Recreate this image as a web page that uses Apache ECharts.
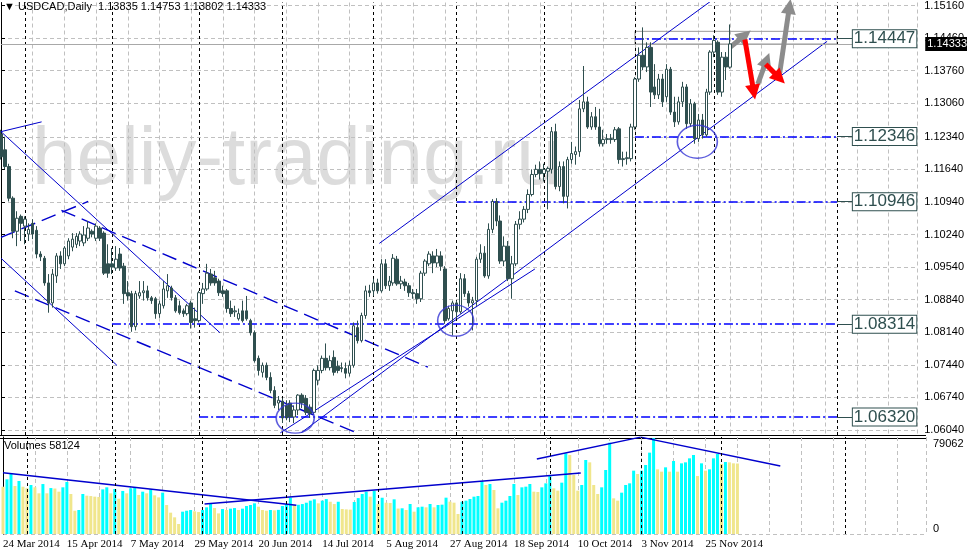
<!DOCTYPE html>
<html><head><meta charset="utf-8">
<script src="https://cdn.jsdelivr.net/npm/echarts@6/dist/echarts.min.js"></script>
<style>html,body{margin:0;padding:0;background:#fff}#c{width:967px;height:554px}</style>
</head><body><div id="c"></div>
<script>
// ---------------- data ----------------
const opens = [1.1240,1.1206,1.1170,1.1102,1.1031,1.1063,1.1042,1.1025,1.1048,1.1033,
1.0982,1.0973,1.0920,1.0877,1.0935,1.0978,1.0961,1.0978,1.0997,1.1003,
1.1010,1.1006,1.1016,1.1031,1.1016,1.1038,1.1027,1.0961,1.0961,1.0952,
1.0982,1.0956,1.0899,1.0897,1.0826,1.0892,1.0899,1.0903,1.0888,1.0886,
1.0854,1.0871,1.0903,1.0909,1.0888,1.0871,1.0860,1.0854,1.0877,1.0843,
1.0839,1.0897,1.0907,1.0939,1.0931,1.0924,1.0903,1.0903,1.0865,1.0858,
1.0843,1.0860,1.0860,1.0839,1.0813,1.0758,1.0728,1.0743,1.0717,1.0689,
1.0662,1.0666,1.0657,1.0662,1.0632,1.0647,1.0679,1.0672,1.0653,1.0642,
1.0711,1.0732,1.0758,1.0738,1.0760,1.0741,1.0738,1.0736,1.0726,1.0743,
1.0824,1.0796,1.0850,1.0903,1.0903,1.0920,1.0903,1.0961,1.0914,1.0920,
1.0971,1.0918,1.0922,1.0914,1.0899,1.0897,1.0886,1.0941,1.0961,1.0978,
1.0963,1.0978,1.0950,1.0843,1.0860,1.0877,1.0858,1.0929,1.0897,1.0877,
1.0882,1.0971,1.0984,1.0935,1.1035,1.1095,1.1053,1.0967,1.0999,1.0929,
1.0961,1.1046,1.1057,1.1078,1.1110,1.1153,1.1164,1.1155,1.1160,1.1164,
1.1245,1.1127,1.1170,1.1106,1.1185,1.1196,1.1202,1.1294,1.1309,1.1255,
1.1277,1.1255,1.1219,1.1228,1.1230,1.1228,1.1251,1.1185,1.1187,1.1187,
1.1255,1.1358,1.1409,1.1384,1.1426,1.1341,1.1324,1.1358,1.1320,1.1379,
1.1287,1.1266,1.1309,1.1341,1.1262,1.1305,1.1230,1.1270,1.1238,1.1330,
1.1416,1.1437,1.1330,1.1405,1.13835];
const highs = [1.1249,1.1234,1.1176,1.1106,1.1074,1.1067,1.1063,1.1048,1.1057,1.1042,
1.0988,1.0978,1.0939,1.0950,1.0984,1.0988,1.0999,1.1016,1.1027,1.1027,
1.1031,1.1042,1.1053,1.1035,1.1048,1.1042,1.1031,1.1003,1.0995,1.0999,
1.0995,1.0963,1.0924,1.0903,1.0903,1.0924,1.0924,1.0914,1.0892,1.0890,
1.0882,1.0924,1.0939,1.0914,1.0894,1.0882,1.0865,1.0875,1.0882,1.0867,
1.0903,1.0920,1.0961,1.0950,1.0946,1.0929,1.0914,1.0907,1.0882,1.0871,
1.0865,1.0882,1.0892,1.0843,1.0818,1.0764,1.0749,1.0749,1.0728,1.0698,
1.0677,1.0672,1.0668,1.0668,1.0657,1.0681,1.0683,1.0679,1.0659,1.0736,
1.0743,1.0764,1.0790,1.0764,1.0775,1.0753,1.0749,1.0749,1.0753,1.0835,
1.0839,1.0856,1.0914,1.0916,1.0929,1.0929,1.0971,1.0971,1.0935,1.0982,
1.0978,1.0935,1.0929,1.0920,1.0907,1.0907,1.0946,1.0971,1.0988,1.0988,
1.0993,1.0988,1.0956,1.0871,1.0882,1.0882,1.0941,1.0939,1.0903,1.0890,
1.0976,1.1003,1.0999,1.1048,1.1100,1.1102,1.1065,1.1020,1.1010,1.0978,
1.1053,1.1074,1.1085,1.1121,1.1164,1.1174,1.1181,1.1176,1.1170,1.1255,
1.1262,1.1181,1.1181,1.1191,1.1223,1.1213,1.1313,1.1386,1.1320,1.1287,
1.1298,1.1294,1.1249,1.1240,1.1240,1.1255,1.1255,1.1202,1.1202,1.1262,
1.1362,1.1426,1.1469,1.1437,1.1437,1.1390,1.1369,1.1369,1.1390,1.1384,
1.1320,1.1320,1.1352,1.1347,1.1315,1.1309,1.1283,1.1283,1.1337,1.1420,
1.1452,1.1441,1.1416,1.1416,1.14753];
const lows = [1.1185,1.1164,1.1095,1.1016,1.0999,1.1010,1.1003,1.1010,1.1014,1.0973,
1.0967,1.0914,1.0856,1.0867,1.0920,1.0950,1.0956,1.0971,1.0988,1.0995,
1.0999,1.0999,1.1010,1.1018,1.1010,1.1010,1.0937,1.0931,1.0939,1.0946,
1.0946,1.0875,1.0882,1.0815,1.0818,1.0886,1.0882,1.0882,1.0875,1.0843,
1.0845,1.0865,1.0888,1.0882,1.0856,1.0852,1.0847,1.0850,1.0822,1.0824,
1.0835,1.0875,1.0903,1.0914,1.0914,1.0892,1.0890,1.0856,1.0847,1.0847,
1.0839,1.0835,1.0839,1.0807,1.0749,1.0721,1.0717,1.0711,1.0683,1.0651,
1.0647,1.0619,1.0625,1.0621,1.0619,1.0636,1.0651,1.0636,1.0630,1.0636,
1.0700,1.0726,1.0732,1.0732,1.0721,1.0726,1.0728,1.0715,1.0719,1.0738,
1.0790,1.0792,1.0843,1.0890,1.0892,1.0897,1.0899,1.0907,1.0903,1.0914,
1.0914,1.0907,1.0903,1.0890,1.0886,1.0875,1.0879,1.0935,1.0956,1.0941,
1.0954,1.0946,1.0832,1.0839,1.0807,1.0843,1.0854,1.0890,1.0869,1.0818,
1.0871,1.0963,1.0931,1.0929,1.1027,1.1042,1.0961,1.0956,1.0924,1.0886,
1.0956,1.1035,1.1050,1.1070,1.1106,1.1147,1.1142,1.1138,1.1078,1.1155,
1.1121,1.1117,1.1091,1.1080,1.1176,1.1174,1.1191,1.1287,1.1251,1.1249,
1.1249,1.1213,1.1213,1.1219,1.1219,1.1223,1.1176,1.1170,1.1174,1.1181,
1.1249,1.1352,1.1377,1.1373,1.1298,1.1315,1.1315,1.1298,1.1309,1.1281,
1.1255,1.1260,1.1298,1.1251,1.1255,1.1219,1.1223,1.1230,1.1234,1.1324,
1.1405,1.1324,1.1320,1.1356,1.13802];
const closes = [1.1191,1.1170,1.1102,1.1031,1.1059,1.1048,1.1057,1.1035,1.1025,1.0982,
1.0976,1.0920,1.0877,1.0939,1.0978,1.0961,1.0995,1.1010,1.1014,1.1020,
1.1025,1.1023,1.1038,1.1025,1.1042,1.1016,1.0941,1.0941,1.0954,1.0971,
1.0952,1.0897,1.0892,1.0826,1.0897,1.0899,1.0903,1.0888,1.0882,1.0854,
1.0875,1.0907,1.0914,1.0888,1.0860,1.0856,1.0854,1.0871,1.0835,1.0839,
1.0899,1.0907,1.0941,1.0920,1.0920,1.0899,1.0897,1.0865,1.0854,1.0860,
1.0854,1.0839,1.0843,1.0813,1.0753,1.0732,1.0743,1.0717,1.0689,1.0657,
1.0668,1.0630,1.0630,1.0632,1.0647,1.0679,1.0662,1.0642,1.0640,1.0732,
1.0732,1.0758,1.0738,1.0753,1.0728,1.0732,1.0736,1.0726,1.0743,1.0828,
1.0796,1.0850,1.0903,1.0899,1.0920,1.0903,1.0961,1.0914,1.0924,1.0973,
1.0918,1.0924,1.0914,1.0899,1.0897,1.0886,1.0941,1.0967,1.0982,1.0963,
1.0978,1.0956,1.0839,1.0865,1.0877,1.0858,1.0929,1.0897,1.0877,1.0882,
1.0971,1.0984,1.0935,1.1035,1.1095,1.1053,1.0967,1.0999,1.0929,1.0961,
1.1046,1.1057,1.1078,1.1110,1.1153,1.1164,1.1155,1.1164,1.1166,1.1245,
1.1127,1.1170,1.1106,1.1185,1.1198,1.1202,1.1294,1.1309,1.1255,1.1277,
1.1255,1.1219,1.1228,1.1230,1.1228,1.1249,1.1185,1.1187,1.1189,1.1255,
1.1358,1.1409,1.1384,1.1426,1.1330,1.1324,1.1358,1.1309,1.1379,1.1287,
1.1266,1.1309,1.1341,1.1262,1.1305,1.1230,1.1270,1.1238,1.1330,1.1416,
1.1441,1.1330,1.1405,1.1384,1.14333];
const volumes = [39000,45100,50050,39600,43700,39000,37700,40400,38500,33550,
41200,33550,37900,37500,34900,38500,42900,33000,19200,19800,
33000,31600,31300,30800,30500,36800,38500,33550,37100,29100,
35500,33550,37700,38500,32200,34900,33550,36800,31900,30200,
34100,23900,17600,13750,8250,18400,19200,19800,18700,18100,
19800,22000,25300,21400,17000,20600,19800,20900,21400,19800,
20900,23100,23900,25300,22500,19800,19200,19800,19500,19900,
23100,24700,29900,23900,24100,24700,25800,27500,28600,25300,
27500,28800,26600,24700,26600,20600,20300,20100,26400,29600,
33000,34900,30800,35500,24700,29900,25800,25600,28600,21000,
21200,19800,24740,18420,22000,22540,22000,24740,22000,23920,
24200,29960,26670,25840,16500,26670,27490,28870,30790,31340,
43160,40410,41230,36290,21170,25840,27490,31340,41230,32170,
38490,39040,41230,34910,34640,38490,41780,47840,37660,35740,
42340,66530,65150,48660,35740,40410,61030,59100,40410,32990,
38490,52780,75320,29410,27490,34090,40410,41780,52230,49480,
52230,56900,67080,79062,53330,51410,54980,51410,60200,51410,
58280,59100,62400,65150,47840,58280,52230,53330,62400,65980,
57730,59380,59100,58280,58124];

const priceTicks = [1.06040,1.06740,1.07440,1.08140,1.08840,1.09540,1.10240,1.10940,1.11640,1.12340,1.13060,1.13760,1.14460,1.15160];
const volumeTopTick = [79062];
const volumeZeroTick = [0];

// drawn objects, in (bar index, price) / (bar index, volume)
const solidTrendLines = [
  [95.5, 1.1005, 181.5, 1.1540],
  [75.75, 1.0598, 208.5, 1.1439],
  [70.5, 1.0598, 134.75, 1.0950],
  [0, 1.1245, 55.25, 1.0813],
  [0, 1.0973, 29.25, 1.0743],
  [0, 1.1245, 10.25, 1.1266]
];
const dashedTrendLines = [
  [15.25, 1.1076, 107.75, 1.0739],
  [3.5, 1.0903, 89.75, 1.0598],
  [0, 1.1018, 22, 1.1095]
];
const levelPrices = [1.14447, 1.12346, 1.10946, 1.08314, 1.06320];
const levelFrom = [160, 160, 115, 28, 50];
const levelTo = 211;
const levelTagAt = 215;
const boxZone = [160, 1.14605, 211, 1.14333];
const userVLines = [211];
const circleCenters = [[74.25, 1.06296], [114.75, 1.08389], [175.75, 1.12234]];
const arrowsUp = [[184, 1.1426, 187.75, 1.1452], [191, 1.1347, 193.25, 1.1399], [196.5, 1.1369, 199, 1.1514]];
const arrowsDown = [[187.75, 1.1443, 190, 1.1330], [193, 1.1390, 196.5, 1.1360]];
const volumeLines = [
  [0, 50550, 73.5, 23670],
  [50.5, 24710, 144.75, 50240],
  [133.75, 61770, 159.75, 79890],
  [159.75, 79890, 194.75, 56000]
];

// ---------------- build ----------------
const FONT = "'Liberation Sans Narrow','Liberation Sans',Arial,sans-serif";
const N = closes.length, lastIdx = N - 1;
const SLOTS = 232, X_MAX = 231.25;
const MONTHS = ['Jan','Feb','Mar','Apr','May','Jun','Jul','Aug','Sep','Oct','Nov','Dec'];
const dates = [];
(function(){ const d = new Date(Date.UTC(2014,2,24)); while (dates.length < SLOTS) { const w = d.getUTCDay(); if (w !== 0 && w !== 6) dates.push(new Date(d.getTime())); d.setUTCDate(d.getUTCDate()+1); } })();
const fmtDate = d => d.getUTCDate() + ' ' + MONTHS[d.getUTCMonth()] + ' ' + d.getUTCFullYear();
const monthStarts = [];
for (let i = 1; i <= lastIdx; i++) if (dates[i].getUTCMonth() !== dates[i-1].getUTCMonth()) monthStarts.push(i);
const separators = monthStarts.concat(userVLines);

const candleData = closes.map((c, i) => [i, opens[i], c, lows[i], highs[i]]);
const CYAN = '#00FFFF', KHAKI = '#F0E68C';
const volData = volumes.map((v, i) => ({value: [i, v], itemStyle: {color: (i > 0 && v > volumes[i-1]) ? CYAN : KHAKI}}));

const gridDash = {color: '#C0C0C0', type: [4, 3], width: 1};
const sepStyle = {color: '#000', type: [3, 3], width: 1};
const BLUE = '#0000CD';

const series = [];
series.push({
  type: 'candlestick', name: 'USDCAD', xAxisIndex: 0, yAxisIndex: 0, z: 5,
  data: candleData, encode: {x: 0, y: [1, 2, 3, 4]}, barWidth: 3,
  itemStyle: {color: '#FFFFFF', color0: '#2F4F4F', borderColor: '#2F4F4F', borderColor0: '#2F4F4F', borderColorDoji: '#2F4F4F', borderWidth: 1},
  markLine: {silent: true, symbol: 'none', label: {show: false}, lineStyle: sepStyle,
    data: separators.map(i => ({xAxis: i}))}
});
solidTrendLines.forEach(l => series.push({type: 'line', xAxisIndex: 0, yAxisIndex: 0, z: 4, silent: true, symbol: 'none',
  data: [[l[0], l[1]], [l[2], l[3]]], lineStyle: {color: BLUE, width: 1}}));
dashedTrendLines.forEach(l => series.push({type: 'line', xAxisIndex: 0, yAxisIndex: 0, z: 4, silent: true, symbol: 'none',
  data: [[l[0], l[1]], [l[2], l[3]]], lineStyle: {color: BLUE, width: 1.4, type: [15, 7]}}));

// levels, tags, rectangle
const levelLines = levelPrices.map((p, k) => [{coord: [levelFrom[k], p]}, {coord: [levelTo, p]}]);
const tagLines = levelPrices.map(p => [{coord: [levelTo, p]}, {coord: [levelTagAt, p],
  label: {show: true, position: 'end', distance: 0, formatter: p.toFixed(5)}}]);
series.push({
  type: 'line', xAxisIndex: 0, yAxisIndex: 0, data: [], z: 6, silent: true,
  markLine: {silent: true, precision: 5, symbol: 'none', label: {show: false}, lineStyle: {color: '#0000FF', width: 1.5, type: [9, 3, 2, 3]}, data: levelLines},
  markArea: {silent: true, itemStyle: {color: 'rgba(0,0,0,0)', borderColor: '#9A9A9A', borderWidth: 1},
    data: [[{coord: [boxZone[0], boxZone[1]]}, {coord: [boxZone[2], boxZone[3]]}]]}
});
series.push({
  type: 'line', xAxisIndex: 0, yAxisIndex: 0, data: [], z: 7, silent: true, clip: false,
  markLine: {silent: true, precision: 5, symbol: 'none', lineStyle: {color: '#2F4F4F', width: 1, type: 'solid'},
    label: {show: false, fontSize: 17, fontFamily: "'Liberation Sans',Arial,sans-serif", color: '#2F4F4F',
      backgroundColor: '#FFFFFF', borderColor: '#2F4F4F', borderWidth: 1, padding: [1, 1, 0, 1], lineHeight: 16},
    data: tagLines}
});
// current price line
series.push({
  type: 'line', xAxisIndex: 0, yAxisIndex: 0, data: [], z: 8, silent: true, clip: false,
  markLine: {silent: true, precision: 5, symbol: 'none', lineStyle: {color: '#A8A8A8', width: 1, type: 'solid'},
    label: {show: true, position: 'end', distance: 8, formatter: closes[lastIdx].toFixed(5), color: '#FFFFFF', backgroundColor: '#000000',
      fontSize: 11, fontFamily: FONT, padding: [2, 1, 1, 2]},
    data: [{yAxis: closes[lastIdx]}]}
});
// ellipses
const ellipseSizes = [[38, 30], [36, 31], [40, 33]];
series.push({type: 'scatter', xAxisIndex: 0, yAxisIndex: 0, z: 6, silent: true, data: circleCenters, symbol: 'circle',
  symbolSize: (v, p) => ellipseSizes[p.dataIndex], itemStyle: {color: 'rgba(0,0,0,0)', borderColor: '#3535D5', borderWidth: 1.5}});
// arrows
const arrowLine = (a, color) => [{coord: [a[0], a[1]], lineStyle: {color: color, width: 5, type: 'solid'}}, {coord: [a[2], a[3]]}];
series.push({type: 'line', xAxisIndex: 0, yAxisIndex: 0, data: [], z: 9, silent: true, clip: false,
  markLine: {silent: true, precision: 5, symbol: ['none', 'triangle'], symbolSize: [15, 15], label: {show: false},
    data: arrowsUp.map(a => arrowLine(a, '#8C8C8C')).concat(arrowsDown.map(a => arrowLine(a, '#FF0000')))}});

// volumes
series.push({type: 'bar', name: 'Volumes', xAxisIndex: 1, yAxisIndex: 1, barWidth: 3, data: volData, z: 3, silent: true,
  markLine: {silent: true, symbol: 'none', label: {show: false}, lineStyle: sepStyle, data: separators.map(i => ({xAxis: i}))}});
volumeLines.forEach(l => series.push({type: 'line', xAxisIndex: 1, yAxisIndex: 1, z: 4, silent: true, symbol: 'none',
  data: [[l[0], l[1]], [l[2], l[3]]], lineStyle: {color: BLUE, width: 1.5}}));

const lbl = {color: '#000', fontSize: 11, fontFamily: FONT};
const option = {
  animation: false,
  backgroundColor: '#FFFFFF',
  title: [
    {text: '\u25BC USDCAD,Daily  ' + [opens[lastIdx], highs[lastIdx], lows[lastIdx], closes[lastIdx]].map(v => v.toFixed(5)).join(' '),
      left: 4, top: 1, padding: 0, textStyle: {fontSize: 11, fontWeight: 'normal', color: '#000', fontFamily: FONT}},
    {text: 'Volumes ' + volumes[lastIdx], left: 4, top: 440, padding: 0, textStyle: {fontSize: 11, fontWeight: 'normal', color: '#000', fontFamily: FONT}}
  ],
  grid: [
    {left: 1, right: 41, top: 0, height: 435},
    {left: 1, right: 41, top: 437, height: 97}
  ],
  xAxis: [
    {type: 'value', gridIndex: 0, min: 0, max: X_MAX, interval: 8, axisLine: {show: false}, axisTick: {show: false}, axisLabel: {show: false},
      splitLine: {show: true, lineStyle: gridDash}},
    {type: 'value', gridIndex: 1, min: 0, max: X_MAX, interval: 8, axisLine: {show: false}, axisTick: {show: false},
      axisLabel: {show: true, align: 'left', margin: 5, color: '#000', fontSize: 11, fontFamily: "'Liberation Sans Narrow'",
        formatter: v => (Number.isInteger(v) && v % 16 === 0 && v <= lastIdx) ? fmtDate(dates[v]) : ''},
      splitLine: {show: true, lineStyle: gridDash}}
  ],
  yAxis: [
    {type: 'value', gridIndex: 0, position: 'right', min: 1.05933, max: 1.15224,
      axisLine: {show: true, lineStyle: {color: '#000', width: 1}},
      axisTick: {show: true, customValues: priceTicks, length: 4, lineStyle: {color: '#000'}},
      axisLabel: Object.assign({customValues: priceTicks, margin: 7, formatter: v => v.toFixed(5)}, lbl),
      splitLine: {show: true, lineStyle: gridDash}},
    {type: 'value', gridIndex: 1, position: 'right', min: 0, max: 80000,
      axisLine: {show: true, lineStyle: {color: '#000', width: 1}},
      axisTick: {show: true, customValues: volumeTopTick, length: 4, lineStyle: {color: '#000'}},
      axisLabel: Object.assign({customValues: volumeTopTick, margin: 7, verticalAlign: 'top', formatter: v => String(v)}, lbl),
      splitLine: {show: false}},
    {type: 'value', gridIndex: 1, position: 'right', min: 0, max: 80000,
      axisLine: {show: false},
      axisTick: {show: false, customValues: volumeZeroTick},
      axisLabel: Object.assign({customValues: volumeZeroTick, margin: 7, verticalAlign: 'bottom', formatter: v => String(v)}, lbl),
      splitLine: {show: true, lineStyle: gridDash}}
  ],
  graphic: [
    {type: 'text', left: 32, top: 120, z: -10, silent: true, scaleX: 0.975,
      style: {text: 'heliy-trading.ru', font: '82px "Liberation Sans", Arial, sans-serif', fill: '#DCDCDC'}},
    {type: 'line', silent: true, shape: {x1: 0, y1: 435.5, x2: 926, y2: 435.5}, style: {stroke: '#000', lineWidth: 1}},
    {type: 'line', silent: true, shape: {x1: 0, y1: 438.5, x2: 926, y2: 438.5}, style: {stroke: '#000', lineWidth: 1}}
  ],
  series: series
};
const chart = echarts.init(document.getElementById('c'));
chart.setOption(option);
</script></body></html>
